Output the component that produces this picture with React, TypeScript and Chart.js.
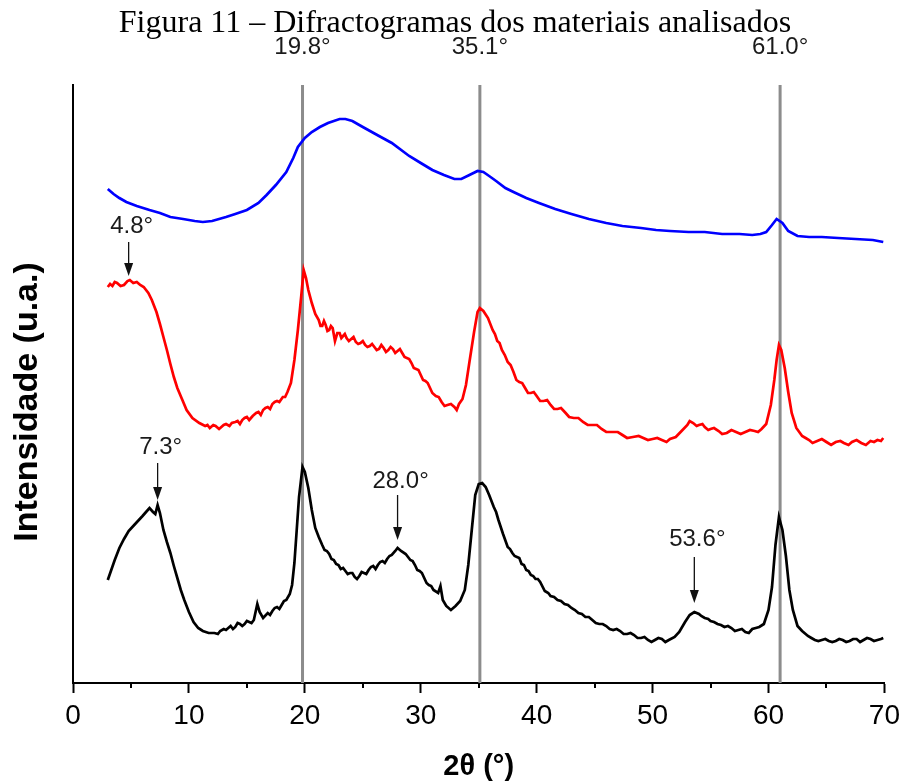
import React, { useEffect, useRef } from "react";
import { Chart, registerables } from "chart.js";

Chart.register(...registerables);

// ---- data (2θ in degrees, intensity in arbitrary units) ----
const titleText = "Figura 11 – Difractogramas dos materiais analisados";
const xTitle = "2θ (°)";
const yTitle = "Intensidade (u.a.)";
const xTickValues = [0, 10, 20, 30, 40, 50, 60, 70];
const xMinorTicks = [5, 15, 25, 35, 45, 55, 65];
const referenceLines = [19.8, 35.1, 61.0];
const referenceLabels = ["19.8°", "35.1°", "61.0°"];

// annotations: angle, arrow tip, arrow top, label centre (intensity units)
const annotationLabels = ["4.8°", "7.3°", "28.0°", "53.6°"];
const annotationAngles = [4.8, 7.3, 28.0, 53.6];
const annotationTips = [407, 183, 143, 80];
const annotationTops = [441, 220, 188, 126];
const annotationTextY = [457, 236, 202, 144];

const blueSeries: [number, number][] = [
  [3.0, 494], [3.5, 489], [4.0, 485], [4.6, 481], [5.5, 477], [6.6, 473], [7.5, 470], [8.4, 466],
  [9.5, 464], [10.5, 462], [11.2, 461], [12.0, 462], [13.2, 466], [14.0, 469], [15.0, 473],
  [16.0, 480], [16.7, 488], [17.5, 498], [18.4, 511], [19.0, 525], [19.4, 536], [20.0, 545],
  [20.6, 551], [21.3, 556], [22.0, 560], [23.0, 564], [23.5, 564], [24.1, 562], [25.0, 556],
  [26.4, 547], [27.5, 540], [29.0, 527], [30.0, 520], [31.0, 513], [32.0, 508], [32.9, 504],
  [33.5, 504], [34.2, 508], [34.9, 512], [35.4, 511], [35.9, 507], [36.5, 502], [37.3, 495],
  [38.0, 491], [39.1, 485], [40.2, 480], [41.6, 474], [43.0, 469], [44.5, 464], [46.0, 460],
  [47.4, 457], [49.0, 455], [50.3, 453], [51.5, 452], [53.1, 451], [54.5, 451], [56.0, 449],
  [57.5, 449], [58.6, 448], [59.3, 449], [59.8, 451], [60.3, 458], [60.7, 464], [61.2, 460],
  [61.7, 452], [62.5, 447], [63.5, 446], [64.6, 446], [66.0, 445], [67.5, 444], [69.0, 443],
  [69.9, 441],
];

const redSeries: [number, number][] = [
  [3.0, 396], [3.2, 399], [3.4, 397], [3.6, 401], [3.8, 400], [4.1, 397], [4.4, 398], [4.7, 402],
  [4.9, 403], [5.2, 400], [5.5, 401], [5.8, 398], [6.1, 396], [6.5, 390], [6.8, 383], [7.2, 371],
  [7.5, 359], [7.8, 346], [8.1, 333], [8.4, 319], [8.7, 306], [9.0, 295], [9.4, 284], [9.8, 273],
  [10.3, 265], [10.9, 260], [11.4, 257], [11.6, 258], [11.8, 255], [12.1, 258], [12.3, 257],
  [12.6, 254], [12.8, 256], [13.0, 258], [13.2, 259], [13.5, 257], [13.7, 260], [14.0, 261],
  [14.2, 262], [14.4, 259], [14.6, 263], [14.8, 265], [15.0, 266], [15.2, 263], [15.5, 267],
  [15.8, 270], [16.0, 271], [16.2, 268], [16.4, 273], [16.6, 275], [16.8, 276], [17.0, 274],
  [17.2, 279], [17.4, 281], [17.6, 282], [17.8, 281], [18.1, 286], [18.3, 286], [18.5, 291],
  [18.8, 300], [19.1, 323], [19.4, 353], [19.7, 388], [19.9, 413], [20.1, 405], [20.3, 393],
  [20.6, 380], [20.9, 369], [21.2, 363], [21.35, 357], [21.5, 357], [21.65, 362], [21.8, 358],
  [21.95, 352], [22.1, 353], [22.25, 357], [22.4, 355], [22.6, 342], [22.8, 350], [23.0, 350],
  [23.15, 345], [23.3, 347], [23.45, 349], [23.6, 345], [23.8, 342], [24.0, 344], [24.2, 346],
  [24.4, 341], [24.6, 339], [24.8, 340], [25.0, 342], [25.2, 338], [25.4, 336], [25.6, 337],
  [25.8, 339], [26.0, 336], [26.2, 333], [26.4, 334], [26.6, 338], [26.8, 335], [27.0, 331],
  [27.2, 333], [27.4, 336], [27.6, 334], [27.8, 330], [28.0, 332], [28.2, 334], [28.4, 330],
  [28.6, 326], [28.8, 325], [29.0, 324], [29.2, 320], [29.4, 315], [29.6, 314], [29.8, 313],
  [30.0, 308], [30.2, 303], [30.4, 302], [30.6, 300], [30.8, 295], [31.0, 290], [31.3, 287],
  [31.55, 286], [31.8, 281], [32.05, 277], [32.3, 278], [32.6, 279], [32.9, 276], [33.1, 273],
  [33.3, 279], [33.6, 284], [33.9, 298], [34.2, 321], [34.6, 351], [34.9, 371], [35.1, 375],
  [35.4, 372], [35.8, 365], [36.2, 353], [36.4, 349], [36.6, 342], [36.8, 340], [37.0, 333],
  [37.25, 328], [37.5, 321], [37.75, 318], [38.0, 311], [38.25, 303], [38.5, 301], [38.75, 300],
  [39.0, 295], [39.25, 290], [39.5, 290], [39.75, 291], [40.0, 287], [40.3, 282], [40.6, 282],
  [40.9, 283], [41.2, 278], [41.5, 274], [41.8, 274], [42.1, 275], [42.5, 270], [42.8, 266],
  [43.2, 265], [43.6, 265], [44.0, 261], [44.4, 258], [44.8, 258], [45.2, 258], [45.6, 254],
  [46.0, 251], [46.5, 251], [47.0, 251], [47.4, 248], [47.8, 245], [48.3, 246], [48.8, 247],
  [49.2, 245], [49.6, 243], [50.0, 244], [50.4, 245], [50.8, 243], [51.2, 241], [51.5, 244],
  [52.0, 246], [52.5, 252], [53.0, 258], [53.2, 262], [53.5, 260], [53.8, 257], [54.0, 258],
  [54.3, 259], [54.5, 256], [54.8, 253], [55.0, 254], [55.3, 255], [55.7, 252], [56.0, 249],
  [56.4, 250], [56.8, 253], [57.2, 251], [57.6, 249], [58.0, 251], [58.4, 253], [58.8, 252],
  [59.1, 251], [59.4, 254], [59.8, 259], [60.2, 278], [60.5, 303], [60.7, 323], [60.9, 338],
  [61.1, 333], [61.4, 315], [61.7, 291], [62.0, 270], [62.4, 255], [62.9, 247], [63.2, 245],
  [63.5, 243], [63.8, 240], [64.2, 242], [64.6, 244], [65.0, 241], [65.4, 238], [65.8, 241],
  [66.2, 242], [66.5, 240], [66.9, 238], [67.2, 241], [67.6, 243], [68.0, 240], [68.4, 238],
  [68.8, 242], [69.1, 241], [69.4, 243], [69.7, 242], [69.9, 245],
];

const blackSeries: [number, number][] = [
  [3.0, 103], [3.3, 113], [3.6, 123], [4.0, 135], [4.4, 144], [4.8, 152], [5.2, 157], [5.6, 162],
  [6.0, 167], [6.3, 171], [6.6, 175], [6.9, 171], [7.1, 169], [7.3, 178], [7.5, 170], [7.8, 153],
  [8.1, 141], [8.4, 130], [8.7, 117], [9.0, 105], [9.3, 93], [9.6, 83], [10.0, 71], [10.4, 61],
  [10.8, 55], [11.2, 52], [11.7, 50], [12.2, 50], [12.5, 49], [12.7, 52], [13.0, 54], [13.2, 53],
  [13.6, 57], [13.8, 54], [14.0, 56], [14.2, 60], [14.4, 59], [14.6, 57], [14.8, 59], [15.0, 62],
  [15.2, 61], [15.4, 60], [15.6, 63], [15.9, 79], [16.1, 71], [16.4, 65], [16.8, 70], [17.0, 68],
  [17.2, 72], [17.4, 75], [17.6, 76], [17.8, 74], [18.0, 78], [18.2, 82], [18.4, 83], [18.7, 89],
  [18.9, 98], [19.1, 120], [19.3, 153], [19.5, 186], [19.8, 216], [20.0, 211], [20.3, 195],
  [20.6, 173], [20.9, 155], [21.2, 146], [21.5, 138], [21.7, 133], [21.9, 132], [22.1, 129],
  [22.3, 124], [22.5, 123], [22.7, 119], [22.9, 118], [23.1, 114], [23.3, 115], [23.5, 112],
  [23.7, 109], [23.9, 110], [24.1, 110], [24.3, 106], [24.5, 104], [24.7, 107], [24.9, 111],
  [25.1, 110], [25.3, 109], [25.5, 113], [25.7, 116], [25.9, 117], [26.1, 114], [26.3, 118],
  [26.5, 121], [26.7, 122], [26.9, 120], [27.1, 124], [27.3, 127], [27.5, 128], [27.8, 132],
  [28.0, 135], [28.3, 132], [28.7, 129], [29.1, 123], [29.3, 122], [29.5, 118], [29.7, 113],
  [29.9, 112], [30.1, 110], [30.3, 105], [30.5, 100], [30.7, 98], [30.9, 97], [31.1, 93],
  [31.5, 90], [31.7, 97], [31.9, 83], [32.2, 77], [32.6, 73], [33.0, 77], [33.4, 82], [33.8, 93],
  [34.1, 118], [34.4, 153], [34.7, 188], [35.0, 199], [35.3, 200], [35.6, 196], [35.9, 188],
  [36.3, 176], [36.5, 171], [36.7, 163], [37.1, 149], [37.5, 136], [37.7, 134], [37.9, 130],
  [38.1, 127], [38.3, 126], [38.5, 125], [38.7, 119], [38.9, 118], [39.1, 113], [39.3, 112],
  [39.5, 108], [39.7, 107], [39.9, 104], [40.1, 104], [40.3, 101], [40.7, 92], [41.0, 90],
  [41.2, 87], [41.5, 86], [41.8, 83], [42.1, 82], [42.4, 79], [42.7, 78], [43.0, 75], [43.3, 73],
  [43.6, 70], [43.9, 69], [44.2, 66], [44.5, 66], [44.8, 63], [45.1, 60], [45.4, 59], [45.7, 59],
  [46.0, 57], [46.3, 54], [46.6, 53], [46.9, 54], [47.2, 52], [47.5, 49], [47.8, 49], [48.1, 50],
  [48.4, 48], [48.7, 45], [49.0, 45], [49.3, 46], [49.6, 43], [49.9, 41], [50.2, 43], [50.5, 45],
  [50.8, 44], [51.1, 41], [51.4, 43], [51.9, 46], [52.3, 51], [52.8, 61], [53.2, 68], [53.6, 71],
  [54.0, 69], [54.2, 67], [54.5, 65], [54.8, 64], [55.0, 62], [55.3, 61], [55.6, 59], [55.9, 58],
  [56.2, 56], [56.5, 57], [56.8, 55], [57.1, 52], [57.4, 53], [57.7, 54], [58.0, 51], [58.3, 50],
  [58.6, 54], [58.9, 55], [59.2, 56], [59.6, 59], [60.0, 73], [60.3, 96], [60.6, 138], [60.9, 166],
  [61.2, 153], [61.5, 127], [61.8, 93], [62.1, 73], [62.5, 57], [62.9, 52], [63.4, 47], [63.7, 45],
  [64.0, 43], [64.3, 42], [64.6, 43], [64.9, 44], [65.2, 42], [65.5, 41], [65.8, 42], [66.1, 44],
  [66.4, 43], [66.7, 41], [67.0, 42], [67.3, 44], [67.6, 44], [67.9, 41], [68.2, 43], [68.5, 45],
  [68.8, 44], [69.1, 42], [69.4, 43], [69.7, 44], [69.9, 45],
];

const yMax = 598;

const toPoints = (s: [number, number][]) =>
  s.slice().sort((a, b) => a[0] - b[0]).map(([x, y]) => ({ x, y }));

const overlayPlugin = {
  id: "overlay",
  beforeDatasetsDraw(chart: any) {
    const { ctx, chartArea, scales } = chart;
    const xs = scales.x;
    ctx.save();
    ctx.strokeStyle = "rgb(140,140,140)";
    ctx.lineWidth = 3;
    referenceLines.forEach((v) => {
      const px = xs.getPixelForValue(v);
      ctx.beginPath();
      ctx.moveTo(px, chartArea.top);
      ctx.lineTo(px, chartArea.bottom);
      ctx.stroke();
    });
    ctx.restore();
  },
  afterDraw(chart: any) {
    const { ctx, chartArea, scales, width } = chart;
    const xs = scales.x;
    const ys = scales.y;
    ctx.save();
    // title
    ctx.fillStyle = "#000";
    ctx.font = '32px "Liberation Serif"';
    ctx.textAlign = "center";
    ctx.textBaseline = "alphabetic";
    ctx.fillText(titleText, width / 2 + 2, 32);
    // reference labels
    ctx.font = '24px "Liberation Sans"';
    ctx.fillStyle = "#1a1a1a";
    ctx.textBaseline = "middle";
    referenceLines.forEach((v, i) => {
      ctx.fillText(referenceLabels[i], xs.getPixelForValue(v), 47);
    });
    // y-axis title
    ctx.save();
    ctx.translate(28, 402);
    ctx.rotate(-Math.PI / 2);
    ctx.font = 'bold 34px "Liberation Sans"';
    ctx.fillStyle = "#000";
    ctx.textAlign = "center";
    ctx.textBaseline = "middle";
    ctx.fillText(yTitle, 0, 0);
    ctx.restore();
    // minor ticks
    ctx.strokeStyle = "#000";
    ctx.lineWidth = 2;
    xMinorTicks.forEach((v) => {
      const px = Math.round(xs.getPixelForValue(v));
      ctx.beginPath();
      ctx.moveTo(px, chartArea.bottom);
      ctx.lineTo(px, chartArea.bottom + 5);
      ctx.stroke();
    });
    // annotations
    annotationAngles.forEach((a, i) => {
      const px = xs.getPixelForValue(a);
      const tip = ys.getPixelForValue(annotationTips[i]);
      const top = ys.getPixelForValue(annotationTops[i]);
      const ty = ys.getPixelForValue(annotationTextY[i]);
      ctx.strokeStyle = "#111";
      ctx.fillStyle = "#111";
      ctx.lineWidth = 1.3;
      ctx.beginPath();
      ctx.moveTo(px, top);
      ctx.lineTo(px, tip - 10);
      ctx.stroke();
      ctx.beginPath();
      ctx.moveTo(px - 4.5, tip - 13);
      ctx.lineTo(px + 4.5, tip - 13);
      ctx.lineTo(px, tip);
      ctx.closePath();
      ctx.fill();
      ctx.font = '24px "Liberation Sans"';
      ctx.fillStyle = "#1a1a1a";
      ctx.textAlign = "center";
      ctx.textBaseline = "middle";
      ctx.fillText(annotationLabels[i], px + 3, ty);
    });
    ctx.restore();
  },
};

export default function App() {
  const canvasRef = useRef<HTMLCanvasElement | null>(null);

  useEffect(() => {
    document.body.style.margin = "0";
    const canvas = canvasRef.current;
    if (!canvas) return;
    const makeSet = (label: string, series: [number, number][], color: string) => ({
      label,
      data: toPoints(series),
      showLine: true,
      borderColor: color,
      borderWidth: 2.7,
      pointRadius: 0,
      tension: 0,
    });
    const chart = new Chart(canvas, {
      type: "scatter",
      data: {
        datasets: [
          makeSet("blue", blueSeries, "#0000ff"),
          makeSet("red", redSeries, "#ff0000"),
          makeSet("black", blackSeries, "#000000"),
        ],
      },
      options: {
        animation: false,
        responsive: false,
        maintainAspectRatio: false,
        events: [],
        layout: { padding: { top: 85, right: 20, left: 0, bottom: 0 } },
        plugins: {
          legend: { display: false },
          tooltip: { enabled: false },
          title: { display: false },
        },
        scales: {
          x: {
            type: "linear",
            min: 0,
            max: 70,
            afterFit: (s: any) => {
              s.height = 101;
            },
            afterBuildTicks: (s: any) => {
              s.ticks = xTickValues.map((v) => ({ value: v }));
            },
            ticks: {
              color: "#000",
              font: { family: "Liberation Sans", size: 28 },
              padding: 6,
              maxRotation: 0,
              autoSkip: false,
            },
            grid: {
              display: true,
              drawOnChartArea: false,
              drawTicks: true,
              tickLength: 10,
              tickWidth: 2,
              tickColor: "#000",
            },
            border: { display: true, color: "#000", width: 2 },
            title: {
              display: true,
              text: xTitle,
              color: "#000",
              font: { family: "Liberation Sans", size: 29, weight: "bold" },
              padding: { top: 0, bottom: 0 },
            },
          },
          y: {
            type: "linear",
            min: 0,
            max: yMax,
            afterFit: (s: any) => {
              s.width = 73;
            },
            ticks: { display: false },
            grid: { display: false, drawTicks: false },
            border: { display: true, color: "#000", width: 2 },
            title: { display: false },
          },
        },
      },
      plugins: [overlayPlugin],
    });
    return () => chart.destroy();
  }, []);

  return (
    <div style={{ width: 906, height: 784 }}>
      <canvas ref={canvasRef} width={906} height={784} style={{ display: "block" }} />
    </div>
  );
}
